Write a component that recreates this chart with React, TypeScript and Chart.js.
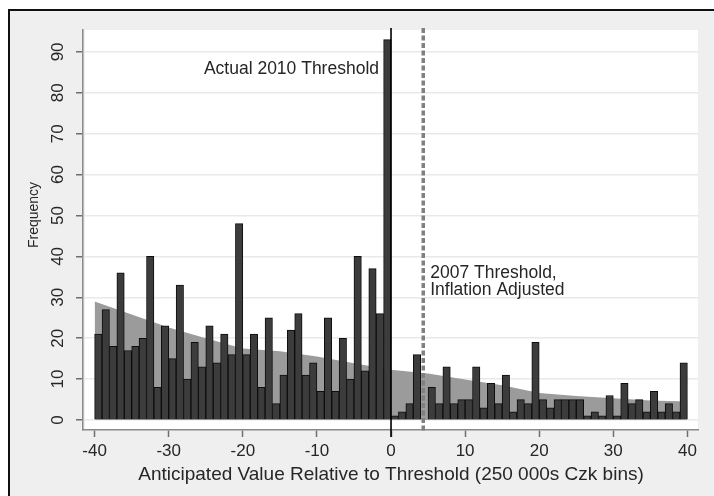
import { useEffect, useRef } from "react";
import { Chart, registerables } from "chart.js";

Chart.register(...registerables);

// Histogram bins (left edge of each 1-unit bin) and their counts
const BIN_START = [
  -40, -39, -38, -37, -36, -35, -34, -33, -32, -31,
  -30, -29, -28, -27, -26, -25, -24, -23, -22, -21,
  -20, -19, -18, -17, -16, -15, -14, -13, -12, -11,
  -10, -9, -8, -7, -6, -5, -4, -3, -2, -1,
  0, 1, 2, 3, 4, 5, 6, 7, 8, 9,
  10, 11, 12, 13, 14, 15, 16, 17, 18, 19,
  20, 21, 22, 23, 24, 25, 26, 27, 28, 29,
  30, 31, 32, 33, 34, 35, 36, 37, 38, 39,
];

const FREQUENCY = [
  21, 27, 18, 36, 17, 18, 20, 40, 8, 23,
  15, 33, 10, 19, 13, 23, 14, 21, 16, 48,
  16, 21, 8, 25, 4, 11, 22, 26, 11, 14,
  7, 25, 7, 20, 10, 40, 12, 37, 26, 93,
  1, 2, 4, 16, 0, 8, 4, 13, 4, 5,
  5, 13, 3, 9, 4, 11, 2, 5, 4, 19,
  5, 3, 5, 5, 5, 5, 1, 2, 1, 6,
  1, 9, 4, 5, 2, 7, 2, 4, 2, 14,
];

// Fitted counterfactual density (shaded area)
const FIT_X = [-40, -35, -30, -25, -20, -15, -10, -5, 0, 5, 10, 15, 20, 25, 30, 35, 40];
const FIT_Y = [29.0, 25.8, 22.6, 20.0, 17.5, 16.8, 15.5, 13.9, 12.3, 11.4, 9.9, 8.5, 6.6, 5.9, 5.3, 4.8, 4.5];

const Y_TICKS = [0, 10, 20, 30, 40, 50, 60, 70, 80, 90];
const X_TICKS = [-40, -30, -20, -10, 0, 10, 20, 30, 40];

const ACTUAL_THRESHOLD = 0;
const ADJUSTED_THRESHOLD = 4.35;

const FONT = "'Liberation Sans', Arial, Helvetica, sans-serif";
const TEXT = "#262626";

const decorations = {
  id: "decorations",
  beforeDraw(chart: any) {
    const { ctx, width, height, chartArea } = chart;
    ctx.save();
    ctx.fillStyle = "#ffffff";
    ctx.fillRect(0, 0, width, height);
    // graph region with its frame
    ctx.fillStyle = "#efefef";
    ctx.fillRect(9, 10, width, height);
    ctx.strokeStyle = "#111111";
    ctx.lineWidth = 2;
    ctx.beginPath();
    ctx.moveTo(9, height + 4);
    ctx.lineTo(9, 10);
    ctx.lineTo(width + 4, 10);
    ctx.stroke();
    // plot region
    ctx.fillStyle = "#ffffff";
    ctx.fillRect(
      chartArea.left + 2,
      chartArea.top,
      chartArea.right - chartArea.left - 2,
      chartArea.bottom - chartArea.top
    );
    ctx.restore();
  },
  afterDatasetsDraw(chart: any) {
    const { ctx, chartArea } = chart;
    const xs = chart.scales.x;
    const x0 = xs.getPixelForValue(ACTUAL_THRESHOLD);
    const x1 = xs.getPixelForValue(ADJUSTED_THRESHOLD);
    ctx.save();
    ctx.strokeStyle = "#000000";
    ctx.lineWidth = 1.6;
    ctx.beginPath();
    ctx.moveTo(x0, chartArea.top - 2);
    ctx.lineTo(x0, chartArea.bottom + 7);
    ctx.stroke();

    ctx.strokeStyle = "#808080";
    ctx.lineWidth = 3.5;
    ctx.setLineDash([5, 2.5]);
    ctx.beginPath();
    ctx.moveTo(x1, chartArea.top - 2);
    ctx.lineTo(x1, chartArea.bottom + 2);
    ctx.stroke();
    ctx.restore();
  },
  afterDraw(chart: any) {
    const { ctx } = chart;
    const xs = chart.scales.x;
    const ys = chart.scales.y;
    const x0 = xs.getPixelForValue(ACTUAL_THRESHOLD);
    const x1 = xs.getPixelForValue(ADJUSTED_THRESHOLD);
    ctx.save();
    ctx.fillStyle = TEXT;
    ctx.textBaseline = "middle";

    ctx.font = `17.5px ${FONT}`;
    ctx.textAlign = "right";
    ctx.fillText("Actual 2010 Threshold", x0 - 12, ys.getPixelForValue(85.8));
    ctx.textAlign = "left";
    ctx.fillText("2007 Threshold,", x1 + 7, ys.getPixelForValue(35.9));
    ctx.fillText("Inflation Adjusted", x1 + 7, ys.getPixelForValue(31.7));

    // axis titles
    ctx.textAlign = "center";
    ctx.font = `19px ${FONT}`;
    ctx.fillText("Anticipated Value Relative to Threshold (250 000s Czk bins)", xs.getPixelForValue(0), 475);

    ctx.font = `14px ${FONT}`;
    ctx.translate(34, 215);
    ctx.rotate(-Math.PI / 2);
    ctx.fillText("Frequency", 0, 0);
    ctx.restore();
  },
};

export default function App() {
  const canvasRef = useRef<HTMLCanvasElement | null>(null);

  useEffect(() => {
    const canvas = canvasRef.current;
    if (!canvas) return;

    const bars = BIN_START.map((start, i) => ({ x: start + 0.5, y: FREQUENCY[i] }));
    const fit = FIT_X.map((x, i) => ({ x, y: FIT_Y[i] }));

    const chart = new Chart(canvas, {
      type: "bar",
      data: {
        datasets: [
          {
            type: "bar",
            label: "Frequency",
            data: bars,
            backgroundColor: "#3c3c3c",
            borderColor: "#0d0d0d",
            borderWidth: 1,
            borderSkipped: "start",
            barPercentage: 1,
            categoryPercentage: 1,
            order: 1,
          } as any,
          {
            type: "line",
            label: "Fitted",
            data: fit,
            borderWidth: 0,
            borderColor: "rgba(0,0,0,0)",
            backgroundColor: "#9b9b9b",
            fill: "origin",
            pointRadius: 0,
            tension: 0,
            order: 2,
          } as any,
        ],
      },
      options: {
        responsive: false,
        animation: false,
        layout: { padding: { top: 30, right: 16, left: 0, bottom: 0 } },
        plugins: {
          legend: { display: false },
          tooltip: { enabled: false },
          title: { display: false },
        },
        scales: {
          x: {
            type: "linear",
            min: -41.57,
            max: 41.43,
            offset: false,
            afterBuildTicks: (s: any) => {
              s.ticks = X_TICKS.map((v) => ({ value: v }));
            },
            afterFit: (s: any) => {
              s.height = 66;
            },
            grid: {
              offset: false,
              drawOnChartArea: false,
              drawTicks: true,
              tickLength: 7,
              tickColor: "#6e6e6e",
              tickWidth: 1.5,
            },
            border: { display: true, color: "#8a8a8a", width: 1.5 },
            ticks: {
              font: { family: FONT, size: 17 },
              color: TEXT,
              padding: 4,
              minRotation: 0,
              maxRotation: 0,
              autoSkip: false,
            },
          },
          y: {
            type: "linear",
            min: -2.44,
            max: 95.35,
            afterBuildTicks: (s: any) => {
              s.ticks = Y_TICKS.map((v) => ({ value: v }));
            },
            afterFit: (s: any) => {
              s.width = 83;
            },
            grid: {
              offset: false,
              color: "#e9e9e9",
              lineWidth: 1.5,
              drawTicks: true,
              tickLength: 7,
              tickColor: "#6e6e6e",
              tickWidth: 1.5,
            },
            border: { display: true, color: "#8a8a8a", width: 1.5 },
            ticks: {
              font: { family: FONT, size: 17 },
              color: TEXT,
              minRotation: 90,
              maxRotation: 90,
              crossAlign: "center",
              padding: 8.5,
              autoSkip: false,
            },
          },
        },
      } as any,
      plugins: [decorations],
    });

    return () => chart.destroy();
  }, []);

  return (
    <div style={{ position: "fixed", left: 0, top: 0, width: 714, height: 496 }}>
      <canvas ref={canvasRef} width={714} height={496} style={{ display: "block" }} />
    </div>
  );
}
